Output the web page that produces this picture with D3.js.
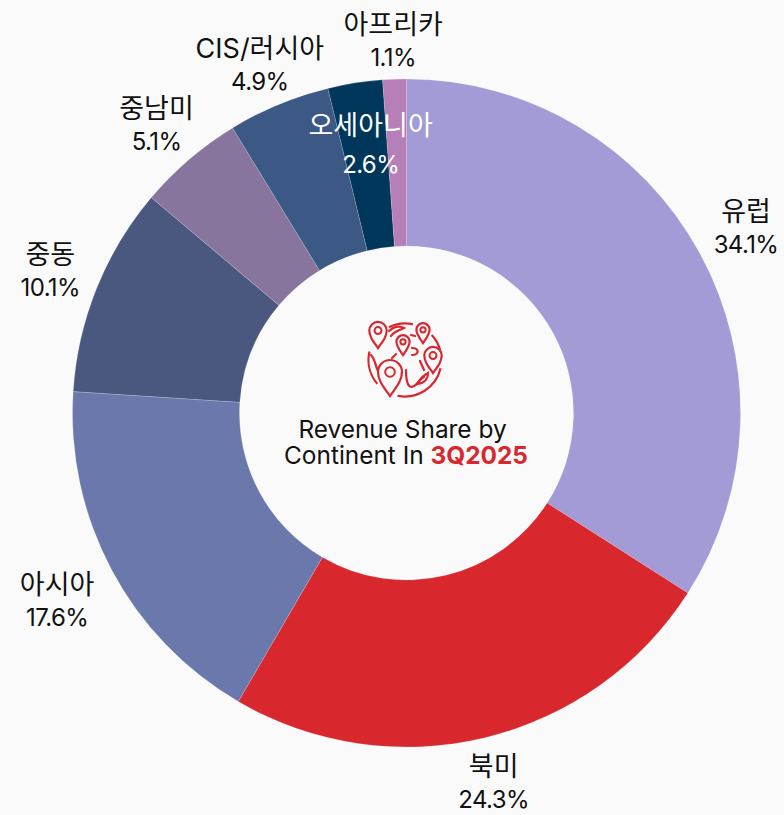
<!DOCTYPE html>
<html>
<head>
<meta charset="utf-8">
<script src="https://cdn.jsdelivr.net/npm/d3@7"></script>
<style>
  html, body { margin: 0; padding: 0; background: #fafafa; }
  svg { display: block; }
  text { font-family: Inter, "Noto Sans CJK KR", sans-serif; }
</style>
</head>
<body>
<div class="canvas"></div>
<script>
const regions = ['유럽', '북미', '아시아', '중동', '중남미', 'CIS/러시아', '오세아니아', '아프리카']
// the labels are rounded, the slice edges in the picture need a bit more precision
const shares = [34.06, 24.34, 17.62, 10.14, 5.12, 4.94, 2.64, 1.14]
const colors = ['#a29bd6', '#d9272e', '#6b78ab', '#4a577f', '#87759d', '#3c5884', '#02375c', '#b77fb7']
const labelRadius = [387, 380, 397, 384, 381, 378, 272, 373]
const labelNudge = [0, -2, 1, 0, -2, -2, 6, 0]

const svg = d3.select('.canvas')
              .append('svg')
              .attr('width', 784)
              .attr('height', 815)

const graph = svg.append('g').attr('transform', 'translate(406.5,413)')

const rows = regions.map((name, i) => ({name, share: shares[i], i}))
const pie = d3.pie().sort(null).value(d => d.share)
const arcPath = d3.arc().innerRadius(167).outerRadius(334)
const color = d3.scaleOrdinal(colors).domain(regions)

const slices = pie(rows)

graph.selectAll('path.slice')
     .data(slices)
     .enter()
     .append('path')
     .attr('class', 'slice')
     .attr('d', arcPath)
     .attr('fill', d => color(d.data.name))
     .attr('stroke', '#fafafa')
     .attr('stroke-opacity', 0.3)
     .attr('stroke-width', 0.6)

const isInside = d => d.data.name === '오세아니아'

const labels = graph.selectAll('g.label')
  .data(slices)
  .enter()
  .append('g')
  .attr('class', 'label')
  .attr('transform', d => {
    const mid = (d.startAngle + d.endAngle) / 2
    const r = labelRadius[d.data.i]
    return `translate(${r * Math.sin(mid) + labelNudge[d.data.i]},${-r * Math.cos(mid)})`
  })
  .attr('text-anchor', 'middle')
  .attr('fill', d => isInside(d) ? '#ffffff' : '#111111')

labels.append('text').attr('y', d => isInside(d) ? -9 : -6).attr('font-size', 27).text(d => d.data.name)
labels.append('text').attr('y', d => isInside(d) ? 29 : 26).attr('font-size', 24).attr('letter-spacing', -0.6)
  .text(d => d.data.share.toFixed(1) + '%')

// center title
const title = graph.append('g').attr('text-anchor', 'middle').attr('font-size', 24.4).attr('fill', '#111111')
title.append('text').attr('x', -4).attr('y', 25).text('Revenue Share by')
const line2 = title.append('text').attr('x', -0.5).attr('y', 51)
line2.append('tspan').text('Continent In ')
line2.append('tspan').attr('fill', '#d9272e').attr('font-weight', 700).text('3Q2025')

// globe icon
const icon = graph.append('g')
  .attr('transform', 'translate(-1.5,-53)')
  .attr('fill', 'none')
  .attr('stroke', '#d9272e')
  .attr('stroke-width', 2.2)
  .attr('stroke-linecap', 'round')

const globeArc = d3.arc().innerRadius(36.5).outerRadius(36.5)
const globeParts = [[0.82, 1.31], [1.8, 3.35], [4.0, 4.95], [5.83, 6.5]]
globeParts.forEach(g => {
  icon.append('path').attr('d', globeArc({startAngle: g[0], endAngle: g[1]}))
})

const landPaths = [
  'M-16-29C-12-33-6-35-1-32C-5-30-11-29-14-24',
  'M6-25L10-24',
  'M-13-2L-9-6',
  'M7-12C14-12 15-5 7-5',
  'M15 1L19 10',
  'M1 10C1 24 4 29 9 26C13 24 14 19 19 17',
  'M13 24C15 18 19 15 23 13C23 19 19 23 13 24Z',
  'M-34 -5C-29 0-30 8-25 14'
]
landPaths.forEach(d => icon.append('path').attr('d', d))

const pinPath = 'M0 0C-3.6-5-6-8-6-12A6 6 0 1 1 6-12C6-8 3.6-5 0 0Z'
const pins = [[-27, -12, 1.45], [18, -17, 1.1], [-2, -5, 1.1], [28, 13, 1.45], [-15, 36, 2.0]]
pins.forEach(p => {
  const pin = icon.append('g').attr('transform', `translate(${p[0]},${p[1]}) scale(${p[2]})`)
  pin.append('path').attr('d', pinPath).attr('fill', '#fafafa').attr('stroke-width', 2.2 / p[2])
  pin.append('circle').attr('cy', -12).attr('r', 2.4).attr('stroke-width', 2 / p[2])
})
</script>
</body>
</html>
